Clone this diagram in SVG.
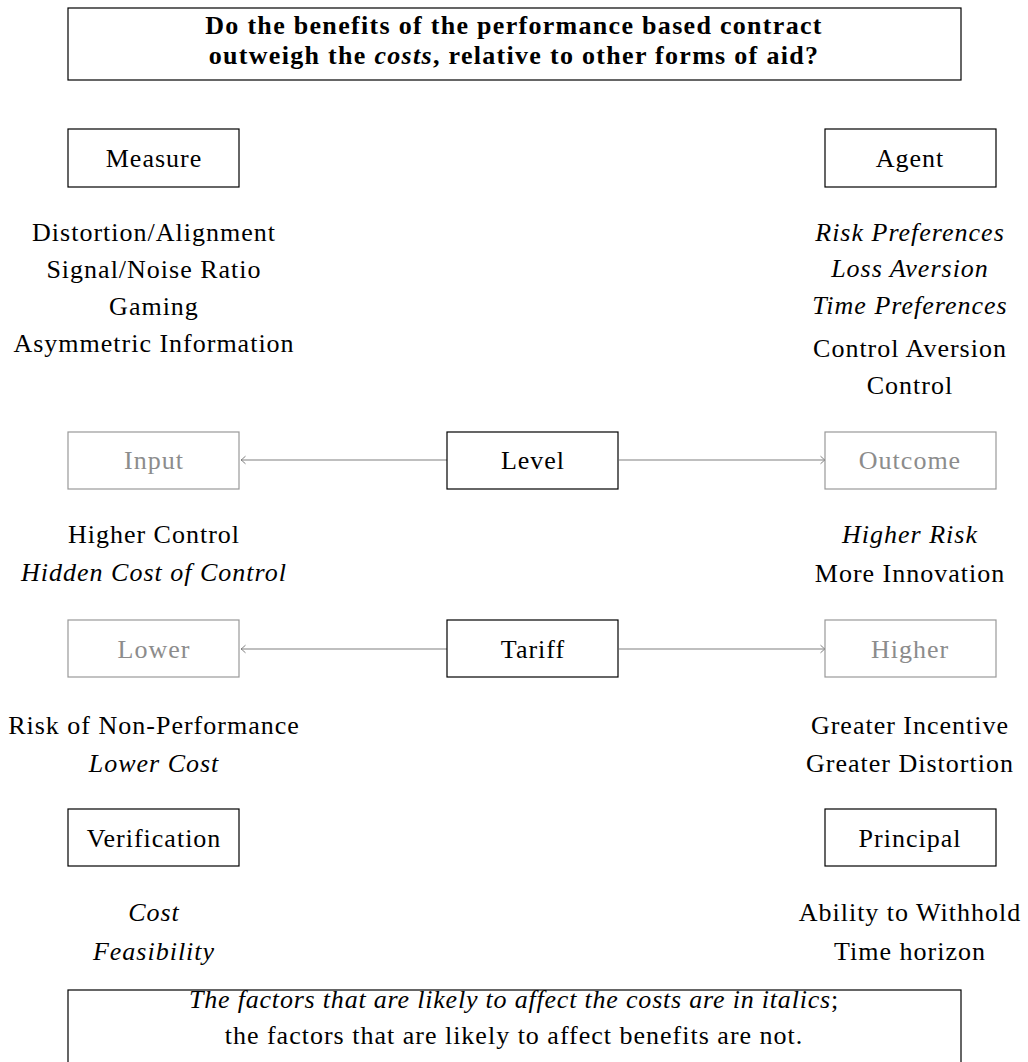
<svg xmlns="http://www.w3.org/2000/svg" width="1028" height="1062" viewBox="0 0 1028 1062">
<style>
text{font-size:26px;letter-spacing:1px;text-anchor:middle;fill:#000}
.it{font-style:italic}
.b{font-weight:bold;letter-spacing:1.3px}
.n{letter-spacing:0.8px}
.g{fill:#8c8c8c}
.box{fill:#fff;stroke:#000;stroke-width:1.2}
.gbox{fill:#fff;stroke:#999;stroke-width:1.2}
.conn{stroke:#808080;stroke-width:1.1;fill:none}
</style>
<defs>
<marker id="to" markerUnits="userSpaceOnUse" markerWidth="12" markerHeight="12" viewBox="-6 -6 12 12" refX="0" refY="0" orient="auto">
<path d="M-4.5,-3.8 Q-1.2,-0.8 0,0 Q-1.2,0.8 -4.5,3.8" fill="none" stroke="#808080" stroke-width="1"/>
</marker>
</defs>
<g font-family="'Liberation Serif', 'Times New Roman', 'DejaVu Serif', serif">
<g id="title">
<rect class="box" x="68" y="8" width="893" height="72"/>
<text class="b" x="514" y="34">Do the benefits of the performance based contract</text>
<text class="b" x="514" y="64">outweigh the <tspan class="it">costs</tspan>, relative to other forms of aid?</text>
</g>

<g id="connectors">
<line class="conn" x1="447" y1="460" x2="241" y2="460" marker-end="url(#to)"/>
<line class="conn" x1="619" y1="460" x2="825" y2="460" marker-end="url(#to)"/>
<line class="conn" x1="447" y1="649" x2="241" y2="649" marker-end="url(#to)"/>
<line class="conn" x1="619" y1="649" x2="825" y2="649" marker-end="url(#to)"/>
</g>

<g id="measure">
<rect class="box" x="68" y="129" width="171" height="58"/>
<text x="154" y="167">Measure</text>
</g>
<g id="measure-factors">
<text x="154" y="241">Distortion/Alignment</text>
<text x="154" y="278">Signal/Noise Ratio</text>
<text x="154" y="315">Gaming</text>
<text x="154" y="352">Asymmetric Information</text>
</g>

<g id="agent">
<rect class="box" x="825" y="129" width="171" height="58"/>
<text x="910" y="167">Agent</text>
</g>
<g id="agent-factors">
<text class="it" x="910" y="241">Risk Preferences</text>
<text class="it" x="910" y="277">Loss Aversion</text>
<text class="it" x="910" y="314">Time Preferences</text>
<text x="910" y="357">Control Aversion</text>
<text x="910" y="394">Control</text>
</g>

<g id="input">
<rect class="gbox" x="68" y="432" width="171" height="57"/>
<text class="g" x="154" y="469">Input</text>
</g>
<g id="level">
<rect class="box" x="447" y="432" width="171" height="57"/>
<text x="533" y="469">Level</text>
</g>
<g id="outcome">
<rect class="gbox" x="825" y="432" width="171" height="57"/>
<text class="g" x="910" y="469">Outcome</text>
</g>

<g id="input-factors">
<text x="154" y="543">Higher Control</text>
<text class="it" x="154" y="581">Hidden Cost of Control</text>
</g>
<g id="outcome-factors">
<text class="it" x="910" y="543">Higher Risk</text>
<text x="910" y="582">More Innovation</text>
</g>

<g id="lower">
<rect class="gbox" x="68" y="620" width="171" height="57"/>
<text class="g" x="154" y="658">Lower</text>
</g>
<g id="tariff">
<rect class="box" x="447" y="620" width="171" height="57"/>
<text x="533" y="658">Tariff</text>
</g>
<g id="higher">
<rect class="gbox" x="825" y="620" width="171" height="57"/>
<text class="g" x="910" y="658">Higher</text>
</g>

<g id="lower-factors">
<text x="154" y="734">Risk of Non-Performance</text>
<text class="it" x="154" y="772">Lower Cost</text>
</g>
<g id="higher-factors">
<text x="910" y="734">Greater Incentive</text>
<text x="910" y="772">Greater Distortion</text>
</g>

<g id="verification">
<rect class="box" x="68" y="809" width="171" height="57"/>
<text x="154" y="847">Verification</text>
</g>
<g id="principal">
<rect class="box" x="825" y="809" width="171" height="57"/>
<text x="910" y="847">Principal</text>
</g>

<g id="verification-factors">
<text class="it" x="154" y="921">Cost</text>
<text class="it" x="154" y="960">Feasibility</text>
</g>
<g id="principal-factors">
<text x="910" y="921">Ability to Withhold</text>
<text x="910" y="960">Time horizon</text>
</g>

<g id="note">
<rect class="box" x="68" y="990" width="893" height="80"/>
<text class="n" x="514" y="1008"><tspan class="it">The factors that are likely to affect the costs are in italics</tspan>;</text>
<text x="514" y="1044">the factors that are likely to affect benefits are not.</text>
</g>
</g>
</svg>
